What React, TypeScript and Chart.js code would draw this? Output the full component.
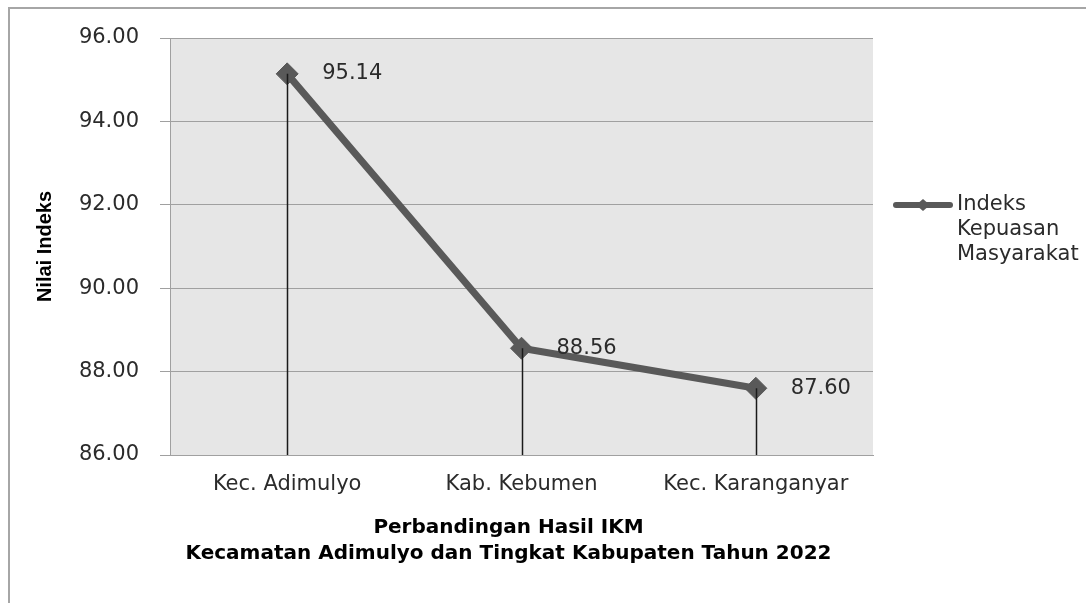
import React, { useEffect, useRef } from "react";
import { Chart, registerables } from "chart.js";

Chart.register(...registerables);

const categories = ["Kec. Adimulyo", "Kab. Kebumen", "Kec. Karanganyar"];
const values = [95.14, 88.56, 87.6];
const seriesName = "Indeks Kepuasan Masyarakat";
const legendLines = ["Indeks", "Kepuasan", "Masyarakat"];
const yMin = 86;
const yMax = 96;
const yStep = 2;
const yTitle = "Nilai Indeks";
const xTitleLines = [
  "Perbandingan Hasil IKM",
  "Kecamatan Adimulyo dan Tingkat Kabupaten Tahun 2022",
];

const FONT = '"DejaVu Sans", sans-serif';
const LINE_COLOR = "#595959";
const TEXT_COLOR = "#2b2b2b";

const decorPlugin = {
  id: "decor",
  beforeDraw(chart: any) {
    const { ctx, chartArea } = chart;
    ctx.save();
    // outer frame
    ctx.strokeStyle = "#a6a6a6";
    ctx.lineWidth = 2;
    ctx.beginPath();
    ctx.moveTo(9, 1200);
    ctx.lineTo(9, 8);
    ctx.lineTo(2000, 8);
    ctx.stroke();
    // plot background
    ctx.fillStyle = "#e6e6e6";
    ctx.fillRect(
      chartArea.left,
      chartArea.top,
      chartArea.right - chartArea.left,
      chartArea.bottom - chartArea.top
    );
    ctx.restore();
  },
  afterDatasetsDraw(chart: any) {
    const { ctx, chartArea } = chart;
    const meta = chart.getDatasetMeta(0);
    ctx.save();
    // drop lines
    ctx.strokeStyle = "#1a1a1a";
    ctx.lineWidth = 1.5;
    meta.data.forEach((pt: any) => {
      const x = Math.round(pt.x) + 0.5;
      ctx.beginPath();
      ctx.moveTo(x, pt.y);
      ctx.lineTo(x, chartArea.bottom);
      ctx.stroke();
    });
    // data labels
    ctx.fillStyle = TEXT_COLOR;
    ctx.font = `21px ${FONT}`;
    ctx.textAlign = "left";
    ctx.textBaseline = "middle";
    meta.data.forEach((pt: any, i: number) => {
      ctx.fillText(values[i].toFixed(2), pt.x + 35, pt.y);
    });
    ctx.restore();
  },
  afterDraw(chart: any) {
    const { ctx, chartArea } = chart;
    ctx.save();
    // x title
    ctx.fillStyle = "#000000";
    ctx.font = `bold 20px ${FONT}`;
    ctx.textAlign = "center";
    ctx.textBaseline = "middle";
    const cx = (chartArea.left + chartArea.right) / 2 - 13;
    xTitleLines.forEach((t, i) => {
      ctx.fillText(t, cx, chartArea.bottom + 73 + i * 26);
    });
    // y title
    ctx.save();
    ctx.translate(45, (chartArea.top + chartArea.bottom) / 2);
    ctx.rotate(-Math.PI / 2);
    ctx.font = `bold 20px "Liberation Sans Narrow", "Liberation Sans", sans-serif`;
    ctx.fillText(yTitle, 0, 0);
    ctx.restore();
    // legend
    const lx = chartArea.right + 20;
    const ly = 205;
    ctx.strokeStyle = LINE_COLOR;
    ctx.lineWidth = 6;
    ctx.lineCap = "round";
    ctx.beginPath();
    ctx.moveTo(lx + 3, ly);
    ctx.lineTo(lx + 57, ly);
    ctx.stroke();
    ctx.fillStyle = LINE_COLOR;
    ctx.beginPath();
    const dx = lx + 30;
    ctx.moveTo(dx - 7, ly);
    ctx.lineTo(dx, ly - 6);
    ctx.lineTo(dx + 7, ly);
    ctx.lineTo(dx, ly + 6);
    ctx.closePath();
    ctx.fill();
    ctx.fillStyle = TEXT_COLOR;
    ctx.font = `21px ${FONT}`;
    ctx.textAlign = "left";
    ctx.textBaseline = "middle";
    legendLines.forEach((t, i) => {
      ctx.fillText(t, lx + 64, ly + i * 25);
    });
    ctx.restore();
  },
};

export default function App() {
  const ref = useRef<HTMLCanvasElement | null>(null);
  useEffect(() => {
    if (!ref.current) return;
    const chart = new Chart(ref.current, {
      type: "line",
      data: {
        labels: categories,
        datasets: [
          {
            label: seriesName,
            data: values,
            borderColor: LINE_COLOR,
            backgroundColor: LINE_COLOR,
            borderWidth: 7,
            pointStyle: "rectRot",
            pointRadius: 11,
            pointBorderWidth: 1,
            pointBackgroundColor: LINE_COLOR,
            pointBorderColor: LINE_COLOR,
            tension: 0,
          },
        ],
      },
      options: {
        responsive: false,
        animation: false,
        layout: { padding: { top: 38, right: 213, bottom: 0, left: 0 } },
        plugins: {
          legend: { display: false },
          tooltip: { enabled: false },
        },
        scales: {
          x: {
            type: "category",
            offset: true,
            grid: { display: false, drawTicks: false },
            border: { display: true, color: "#a0a0a0", width: 1 },
            ticks: {
              color: TEXT_COLOR,
              font: { family: FONT, size: 21 },
              padding: 17,
              maxRotation: 0,
            },
            afterFit(scale: any) {
              scale.height = 148;
            },
          },
          y: {
            min: yMin,
            max: yMax,
            grid: {
              color: "#a0a0a0",
              lineWidth: 1,
              tickLength: 10,
              drawTicks: true,
            },
            border: { display: true, color: "#a0a0a0", width: 1 },
            ticks: {
              stepSize: yStep,
              color: TEXT_COLOR,
              font: { family: FONT, size: 21 },
              padding: 21,
              callback: (v: any) => Number(v).toFixed(2),
            },
            afterFit(scale: any) {
              scale.width = 170;
            },
          },
        },
      },
      plugins: [decorPlugin],
    } as any);
    return () => chart.destroy();
  }, []);
  return (
    <div style={{ position: "fixed", left: 0, top: 0, width: 1086, height: 603, background: "#fff" }}>
      <canvas ref={ref} width={1086} height={603} />
    </div>
  );
}
